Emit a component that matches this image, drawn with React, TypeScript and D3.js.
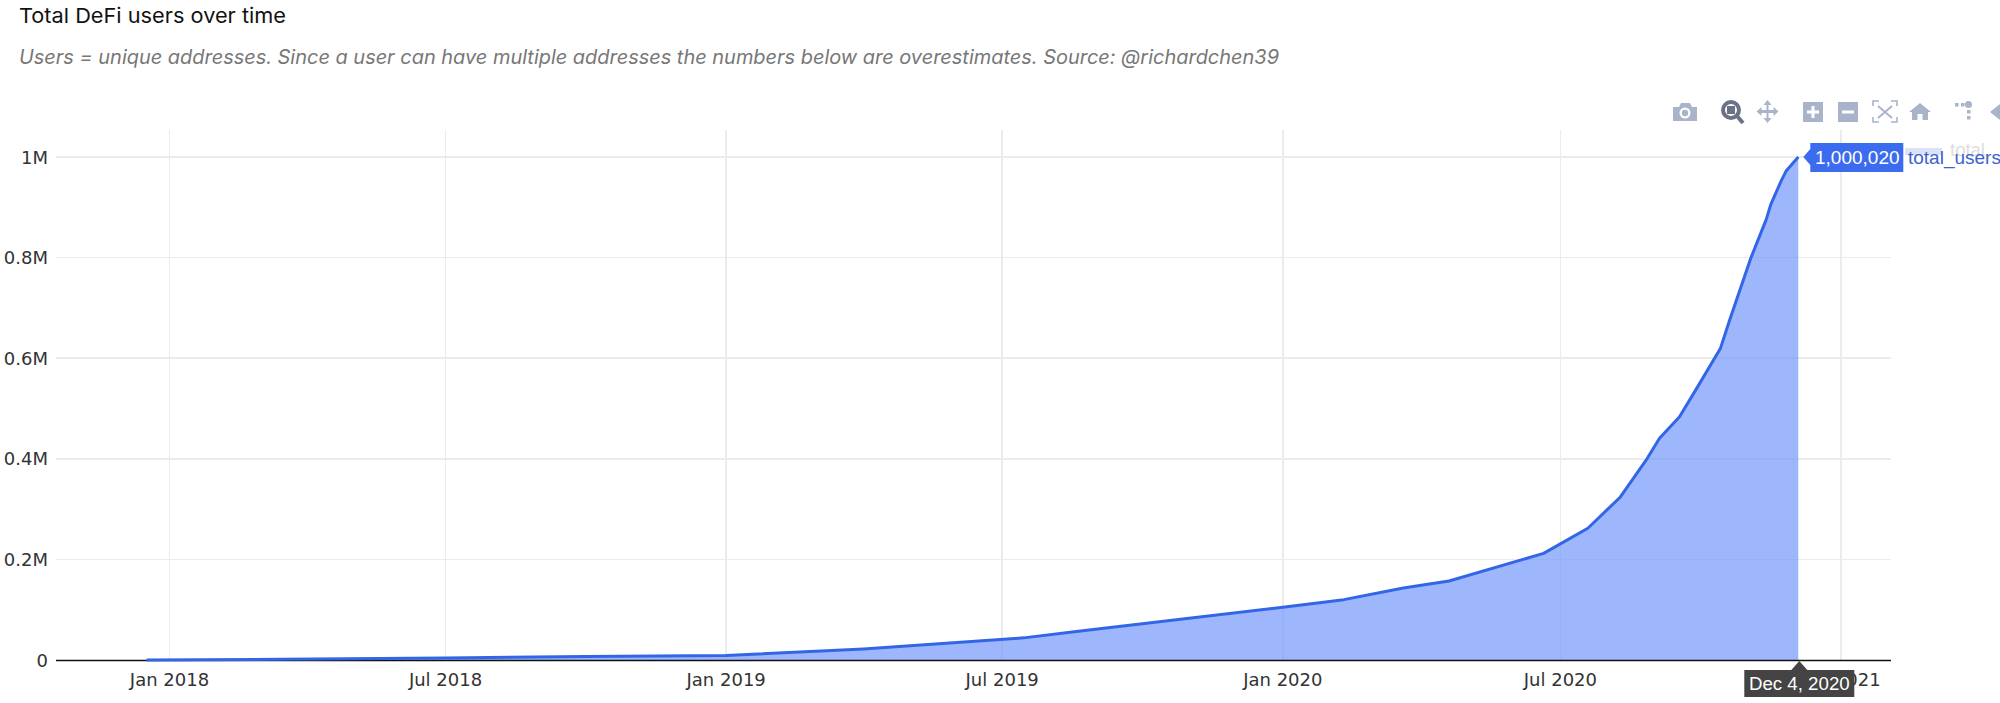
import React from "react";
import * as d3 from "d3";

const dates = ["2017-12-17","2018-03-15","2018-07-01","2018-10-01","2019-01-01","2019-01-15","2019-04-01","2019-07-15","2019-08-20","2020-01-01","2020-02-10","2020-03-20","2020-04-19","2020-06-20","2020-07-19","2020-08-09","2020-08-27","2020-09-04","2020-09-17","2020-09-27","2020-10-14","2020-10-20","2020-11-03","2020-11-13","2020-11-16","2020-11-23","2020-11-26","2020-12-04"];
const totalUsers = [0,1500,4000,7000,9000,11000,22000,44000,57000,105000,120000,143000,157000,212000,262000,323000,401000,441000,483000,533000,620000,676000,800000,876000,906000,954000,972000,1000020];
const xTickDates = ["2018-01-01","2018-07-01","2019-01-01","2019-07-01","2020-01-01","2020-07-01","2021-01-01"];
const xTickLabels = ["Jan 2018","Jul 2018","Jan 2019","Jul 2019","Jan 2020","Jul 2020","Jan 2021"];
const yTickValues = [0,200000,400000,600000,800000,1000000];
const yTickLabels = ["0","0.2M","0.4M","0.6M","0.8M","1M"];
const titleText = "Total DeFi users over time";
const subtitleText = "Users = unique addresses. Since a user can have multiple addresses the numbers below are overestimates. Source: @richardchen39";
const valueLabel = "1,000,020";
const dateLabel = "Dec 4, 2020";
const seriesName = "total_users";

const parse = d3.utcParse("%Y-%m-%d");
const x = d3.scaleUtc().domain([parse("2018-01-01")!, parse("2021-01-01")!]).range([169.5, 1841]);
const y = d3.scaleLinear().domain([0, 1000000]).range([660, 157]);
const pts = dates.map((d, i) => ({ d: parse(d)!, v: totalUsers[i] }));
const area = d3.area<any>().x(p => x(p.d)).y0(y(0)).y1(p => y(p.v));
const line = d3.line<any>().x(p => x(p.d)).y(p => y(p.v));

const axisFont = "'DejaVu Sans', sans-serif";
const hoverFont = "'Liberation Sans', Arial, sans-serif";
const ICON = "#a9b3c9";
const left = 56, right = 1891, top = 130;

export default function App() {
  const lastX = x(pts[pts.length - 1].d) + 1;
  const lastY = y(pts[pts.length - 1].v);
  return (
    <svg width={2000} height={703} style={{ position: "absolute", left: 0, top: 0, background: "#fff" }}>
      <text x={19} y={23} fontFamily="Inter, sans-serif" fontSize={20.5} fill="#111" textLength={267} lengthAdjust="spacingAndGlyphs">{titleText}</text>
      <text x={19} y={64} fontFamily="Inter, sans-serif" fontStyle="italic" fontSize={20} fill="#777" textLength={1260} lengthAdjust="spacingAndGlyphs">{subtitleText}</text>

      {/* modebar */}
      <g fill={ICON}>
        <path d="M1673 107h6l2-4h9l2 4h5v14h-24z" />
        <circle cx={1685} cy={113} r={5.5} fill="#fff" />
        <circle cx={1685} cy={113} r={3.2} />
        <circle cx={1731} cy={110} r={8} fill="none" stroke="#6b7285" strokeWidth={4} />
        <rect x={1727} y={106} width={8} height={8} fill="#6b7285" />
        <path d="M1737 116l6 7" stroke="#6b7285" strokeWidth={4} />
        <path d="M1767.500 100l4 5h-3v5h5v-3l5 4.500-5 4.500v-3h-5v5h3l-4 5-4-5h3v-5h-5v3l-5-4.500 5-4.500v3h5v-5h-3z" />
        <path fillRule="evenodd" d="M1803 102h20v20h-20zM1811.500 106v4.500h-4.500v3h4.500v4.500h3v-4.500h4.500v-3h-4.500v-4.500z" />
        <path fillRule="evenodd" d="M1838 102h20v20h-20zM1842 110.500v3h12v-3z" />
        <g fill="none" stroke={ICON} strokeWidth={1.6}>
          <path d="M1873 106v-5h6M1891 101h6v5M1897 117v5h-6M1879 122h-6v-5" />
          <path d="M1878 106l14 12M1892 106l-14 12" strokeWidth={2} />
        </g>
        <path d="M1920 103l11 9h-3v8h-5.500v-6h-5v6h-5.500v-8h-3z" />
        <circle cx={1968.500} cy={104.500} r={3.500} />
        <rect x={1955} y={103} width={3.500} height={3.500} />
        <rect x={1961} y={103} width={3.500} height={3.500} />
        <rect x={1967} y={110} width={3.500} height={3.500} />
        <rect x={1967} y={116} width={3.500} height={3.500} />
        <path d="M1990 112l10-8v16z" />
      </g>

      {/* grid */}
      <g stroke="#ebebeb" strokeWidth={1.5} shapeRendering="crispEdges">
        {xTickDates.map(d => <line key={d} x1={x(parse(d)!)} x2={x(parse(d)!)} y1={top} y2={660} />)}
        {yTickValues.slice(1).map(v => <line key={v} x1={left} x2={right} y1={y(v)} y2={y(v)} />)}
      </g>

      <path d={area(pts)!} fill="#6f94fb" fillOpacity={0.68} />
      <line x1={left} x2={right} y1={660.5} y2={660.5} stroke="#111" strokeWidth={1.6} />
      <path d={line(pts)!} fill="none" stroke="#3366e6" strokeWidth={3} strokeLinejoin="round" />

      {/* axis labels */}
      <g fontFamily={axisFont} fontSize={18} fill="#333">
        {yTickValues.map((v, i) => (
          <text key={v} x={48} y={y(v) + 6.5} textAnchor="end">{yTickLabels[i]}</text>
        ))}
        {xTickDates.map((d, i) => (
          <text key={d} x={x(parse(d)!)} y={686} textAnchor="middle">{xTickLabels[i]}</text>
        ))}
      </g>

      {/* hover: value */}
      <rect x={1905} y={148} width={37} height={7} fill="#dbe3f7" />
      <text x={1950} y={156} fontFamily={hoverFont} fontSize={18.5} fill="#ddd">total</text>
      <path d={`M${lastX + 4} ${lastY}l7-8v-6h93v29h-93v-7z`} fill="#3b6cf0" />
      <text x={1815} y={164} fontFamily={hoverFont} fontSize={19} fill="#fff">{valueLabel}</text>
      <text x={1908} y={164} fontFamily={hoverFont} fontSize={19} fill="#3a62d0">{seriesName}</text>

      {/* hover: date */}
      <path d={`M${lastX} 661l8 9h47v27h-110v-27h47z`} fill="#444" />
      <text x={lastX} y={690} textAnchor="middle" fontFamily={hoverFont} fontSize={18.7} fill="#fff">{dateLabel}</text>
    </svg>
  );
}
